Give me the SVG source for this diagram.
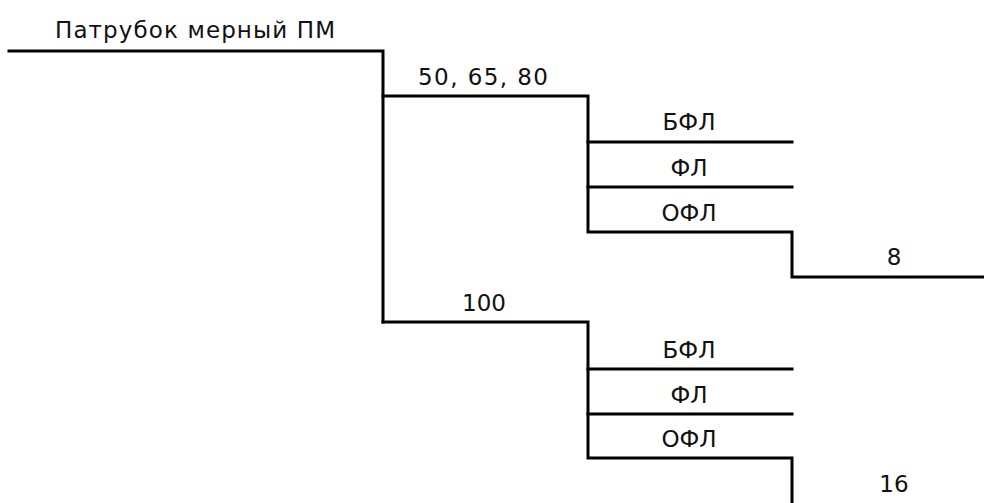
<svg xmlns="http://www.w3.org/2000/svg" width="984" height="503" viewBox="0 0 984 503">
  <style>
    .wire { fill: none; stroke: #000; stroke-width: 3; stroke-linecap: square; stroke-linejoin: miter; }
    .lbl { font-family: "DejaVu Sans", Verdana, sans-serif; font-size: 23px; fill: #111; text-anchor: middle; }
  </style>
  <rect width="984" height="503" fill="#fff"/>
  <g id="connectors">
    <!-- root feed -->
    <path class="wire" d="M9 51 H383 V322"/>
    <!-- branch 50, 65, 80 -->
    <path class="wire" d="M383 96 H588 V232 H792 V277 H984"/>
    <path class="wire" d="M588 142 H792"/>
    <path class="wire" d="M588 187 H792"/>
    <!-- branch 100 -->
    <path class="wire" d="M383 322 H588 V458 H792 V503"/>
    <path class="wire" d="M588 369 H792"/>
    <path class="wire" d="M588 414 H792"/>
  </g>
  <g id="root"><text class="lbl" x="195" y="38" textLength="280" lengthAdjust="spacing">Патрубок мерный ПМ</text></g>
  <g id="dn50-80"><text class="lbl" x="483" y="85" textLength="130" lengthAdjust="spacing">50, 65, 80</text></g>
  <g id="bfl1"><text class="lbl" x="689" y="130">БФЛ</text></g>
  <g id="fl1"><text class="lbl" x="689" y="176">ФЛ</text></g>
  <g id="ofl1"><text class="lbl" x="689" y="221">ОФЛ</text></g>
  <g id="pn8"><text class="lbl" x="894" y="265">8</text></g>
  <g id="dn100"><text class="lbl" x="484" y="311">100</text></g>
  <g id="bfl2"><text class="lbl" x="689" y="358">БФЛ</text></g>
  <g id="fl2"><text class="lbl" x="689" y="403">ФЛ</text></g>
  <g id="ofl2"><text class="lbl" x="689" y="447">ОФЛ</text></g>
  <g id="pn16"><text class="lbl" x="894" y="492">16</text></g>
</svg>
